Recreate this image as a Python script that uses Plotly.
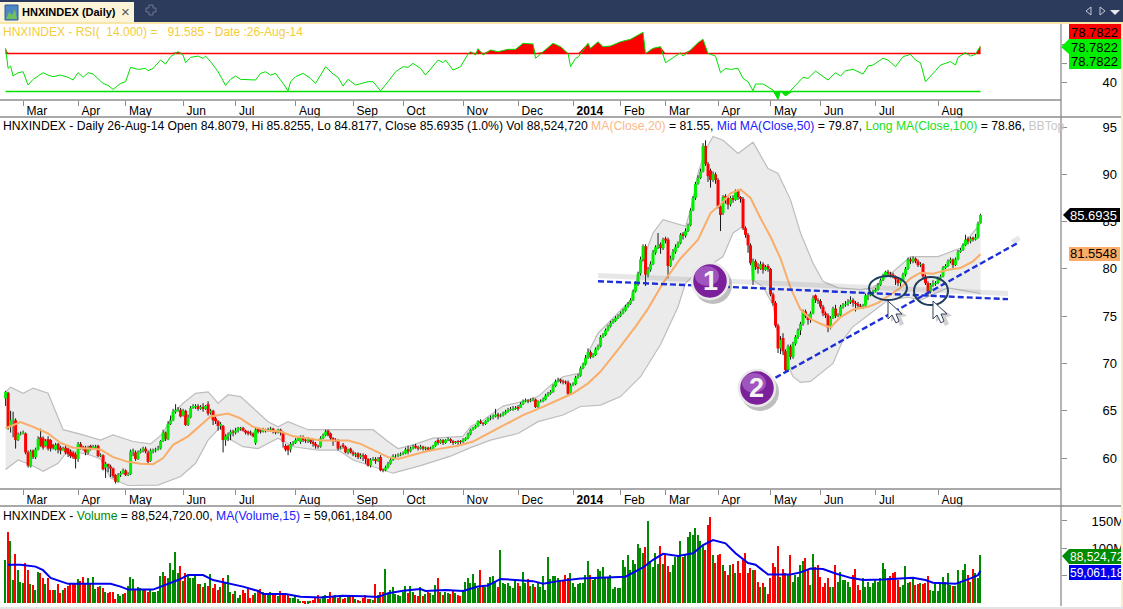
import plotly.graph_objects as go
import numpy as np

W, H = 1123, 609
FONT = "Liberation Sans"

# daily bars, one value per session
opens = [66.3,66.9,63.3,64.0,64.0,61.9,62.5,62.6,62.6,60.6,
59.1,60.8,60.1,60.9,62.2,62.1,61.3,62.0,61.9,61.4,
60.9,61.5,61.1,60.8,61.1,61.0,60.7,60.6,60.4,59.9,
61.5,61.2,61.1,60.6,61.3,61.0,61.1,61.3,60.2,60.3,
59.0,59.4,59.1,58.9,58.2,57.5,58.2,58.4,58.7,58.2,
58.3,60.7,60.6,59.9,60.6,60.8,61.0,60.6,59.7,60.7,
60.8,60.9,61.0,61.8,62.7,62.0,63.6,64.0,64.9,65.0,
65.1,64.5,65.0,63.5,64.3,65.3,65.4,65.5,65.2,65.4,
65.2,65.7,64.8,65.0,64.2,63.9,63.4,63.4,61.9,62.3,
62.5,62.8,62.7,62.9,63.1,63.2,62.9,62.8,62.7,62.6,
61.6,63.1,62.9,62.8,63.0,62.9,63.0,63.1,62.8,62.7,
63.0,62.7,61.3,61.3,60.9,61.5,61.6,61.9,61.7,62.2,
61.9,61.8,62.0,61.7,61.5,61.3,61.2,62.1,62.4,62.9,
62.6,62.1,61.8,61.9,61.0,61.4,61.2,60.6,61.0,60.6,
60.3,60.5,60.1,60.3,60.3,59.9,59.2,59.8,59.9,59.7,
60.1,58.8,58.7,59.0,59.4,59.8,60.2,60.2,60.3,60.4,
60.5,60.9,60.7,61.0,61.3,61.1,61.0,61.2,61.0,61.1,
60.9,61.0,61.3,61.9,61.6,61.9,61.6,61.9,62.0,61.8,
61.6,61.8,61.8,61.7,61.9,62.1,62.5,63.0,63.2,63.4,
63.9,63.7,63.6,63.9,64.2,64.3,64.4,64.6,64.4,64.5,
64.7,64.9,65.1,65.1,65.2,65.4,65.3,65.7,66.0,66.1,
66.0,66.1,66.2,65.4,65.9,66.0,66.2,66.6,66.8,67.0,
67.6,68.1,68.3,68.1,68.1,68.0,66.9,67.7,67.8,68.5,
68.7,69.5,69.9,70.6,71.2,70.7,70.9,71.5,71.8,72.8,
73.0,73.5,73.9,74.3,74.5,74.8,75.0,75.3,75.6,76.0,
76.3,76.7,77.6,78.4,79.5,81.0,82.4,79.4,79.9,80.5,
81.7,82.3,82.6,82.2,83.2,83.1,80.3,81.1,81.8,82.3,
82.7,83.7,83.5,84.0,84.6,86.2,87.5,89.0,89.6,90.3,
93.0,91.1,90.4,89.4,90.0,89.4,86.6,85.9,87.7,87.5,
86.8,87.5,87.3,88.3,87.6,87.4,84.3,83.6,82.5,78.8,
80.8,80.2,80.0,80.5,79.9,80.3,80.0,77.3,76.4,74.0,
71.6,72.7,71.3,69.3,71.8,70.7,72.1,72.8,73.5,74.2,
75.5,75.0,74.6,75.3,77.2,76.7,76.6,76.0,75.3,75.1,
73.8,74.8,75.8,75.0,75.1,76.0,76.2,76.3,76.5,76.7,
76.4,76.3,76.1,76.0,76.1,77.1,77.2,77.4,77.6,77.8,
78.3,78.8,79.3,79.7,79.5,79.4,79.2,78.9,78.5,78.8,
79.4,80.0,81.0,80.8,81.1,80.8,80.4,80.5,79.2,78.5,
77.6,78.3,78.4,78.5,79.0,79.2,80.1,80.3,80.8,81.0,
80.4,81.0,81.8,82.0,82.5,83.2,82.9,83.3,83.1,83.3,84.81]
closes = [67.0,63.3,64.0,64.1,61.9,62.5,62.6,62.7,60.6,59.2,
60.7,60.1,60.9,62.0,61.3,61.1,61.8,61.0,61.0,61.1,
61.4,60.9,60.8,61.0,60.6,60.4,60.2,60.1,59.9,61.5,
61.1,61.0,60.6,61.1,61.0,61.2,61.2,60.2,60.3,58.8,
59.4,59.1,58.9,58.1,57.5,58.2,58.4,58.7,58.2,58.3,
60.7,60.8,59.9,60.6,60.8,61.0,60.7,59.6,60.8,60.8,
60.9,61.0,61.8,62.7,62.0,63.6,64.0,64.9,65.1,65.1,
64.4,65.0,63.5,64.3,65.3,65.5,65.5,65.2,65.4,65.2,
65.5,64.7,65.0,64.0,63.9,63.4,63.6,61.9,62.3,62.5,
62.8,62.7,62.9,63.2,63.2,62.9,62.7,62.6,62.6,62.3,
63.0,62.8,62.8,63.0,62.9,63.0,63.1,62.8,62.7,63.0,
62.7,61.7,60.9,60.8,61.5,61.6,61.9,62.1,62.2,61.9,
61.8,62.0,61.7,61.5,61.3,61.2,62.1,62.4,62.8,62.4,
62.1,61.8,61.9,61.0,61.1,61.2,60.6,60.9,60.6,60.4,
60.4,60.1,60.3,60.2,59.9,59.2,59.8,59.9,59.7,59.9,
58.7,58.7,59.0,59.4,59.8,60.2,60.2,60.3,60.4,60.5,
60.9,60.7,61.0,61.2,61.1,61.0,61.2,61.0,61.1,60.9,
61.0,61.3,61.7,61.6,61.9,61.6,61.9,62.0,61.8,61.6,
61.7,61.7,61.7,61.9,62.1,62.5,63.0,63.2,63.4,63.9,
63.7,63.6,63.9,64.2,64.3,64.4,64.6,64.4,64.5,64.7,
64.9,65.1,65.2,65.2,65.3,65.2,65.7,66.0,66.1,66.0,
66.1,66.2,65.4,66.0,66.0,66.2,66.6,66.8,67.0,67.6,
68.1,68.2,68.1,68.0,68.0,66.8,67.7,67.8,68.5,68.7,
69.5,69.9,70.6,71.2,70.7,70.9,71.5,71.8,72.8,73.0,
73.5,73.9,74.3,74.5,74.8,75.0,75.3,75.6,76.0,76.3,
76.7,77.6,78.4,79.5,81.0,82.4,79.4,79.9,80.5,81.7,
82.3,82.5,82.2,83.1,83.0,80.3,81.1,81.8,82.3,82.7,
83.6,83.5,84.0,84.6,86.2,87.5,89.0,89.6,90.3,93.0,
91.1,89.8,89.4,90.0,89.4,86.6,85.7,87.6,87.5,86.8,
87.5,87.3,88.3,87.6,87.4,84.3,83.6,82.5,80.6,80.8,
80.2,80.0,80.5,79.9,80.2,80.0,77.3,76.4,74.0,71.6,
72.5,71.3,69.3,71.8,70.7,72.1,72.8,73.5,74.2,75.5,
75.0,74.6,75.3,76.9,76.7,76.6,76.0,75.3,75.1,73.8,
74.8,75.8,75.0,75.1,76.0,76.2,76.3,76.5,76.7,76.4,
76.3,76.1,76.0,76.1,77.2,77.2,77.4,77.6,77.8,78.3,
78.8,79.3,79.7,79.5,79.4,79.2,78.9,78.5,78.8,79.4,
80.0,81.0,80.8,81.1,80.8,80.4,80.5,79.2,78.5,77.6,
78.3,78.5,78.5,79.0,79.2,80.1,80.3,80.8,81.0,80.4,
81.0,81.8,82.0,82.5,83.1,82.9,83.2,83.1,83.3,84.8,85.69]
highs = [67.1,67.0,65.0,64.9,64.2,62.7,62.8,62.9,62.7,60.8,
60.9,60.9,61.1,62.3,63.1,62.3,62.0,62.3,62.0,61.5,
61.6,61.6,61.3,61.2,61.3,61.1,60.9,60.7,60.6,61.7,
61.7,61.3,61.3,61.3,61.4,61.4,61.4,61.4,60.5,60.4,
59.6,59.3,59.3,59.0,58.3,58.4,58.6,58.9,58.8,58.5,
60.9,61.0,60.8,60.8,61.0,61.2,61.2,60.8,61.0,61.0,
61.1,61.3,61.9,63.0,62.8,63.9,64.5,65.2,65.7,65.4,
65.3,65.2,65.1,64.6,65.5,65.7,65.7,65.7,65.6,65.8,
65.6,66.0,65.2,65.1,64.4,64.0,63.8,63.5,62.5,62.7,
63.0,63.0,63.2,63.3,63.3,63.3,63.0,62.9,62.9,62.7,
63.2,63.2,63.0,63.2,63.1,63.2,63.3,63.2,62.9,63.1,
63.1,62.8,61.5,61.4,61.7,61.8,62.1,62.3,62.4,62.4,
62.0,62.2,62.1,61.9,61.7,61.4,62.3,62.6,63.0,63.0,
62.7,62.2,62.1,62.0,61.3,61.6,61.3,61.0,61.1,60.8,
60.6,60.6,60.5,60.5,60.4,60.0,60.0,60.1,60.1,60.1,
60.3,58.9,59.2,59.6,60.0,60.4,60.4,60.5,60.6,60.7,
61.1,61.3,61.2,61.4,61.5,61.3,61.4,61.3,61.2,61.2,
61.2,61.4,61.8,62.1,62.0,62.0,62.0,62.2,62.1,61.9,
61.8,61.9,61.9,62.1,62.2,62.7,63.1,63.3,63.5,64.0,
64.1,63.8,64.0,64.3,64.5,64.6,65.2,64.8,64.7,64.9,
65.1,65.3,65.4,65.5,65.5,65.6,65.9,66.2,66.3,66.2,
66.3,66.4,66.3,66.1,66.2,66.4,66.8,67.0,67.2,67.8,
68.3,68.5,68.4,68.3,68.2,68.2,67.9,68.0,68.7,68.9,
69.7,70.1,70.9,71.6,71.4,71.1,71.7,72.0,73.0,73.2,
73.7,74.1,74.5,74.7,75.0,75.2,75.5,75.8,76.2,76.5,
76.9,77.8,78.7,79.7,81.3,82.6,82.6,80.2,80.8,82.0,
82.5,83.8,82.8,83.3,83.4,83.3,81.4,82.1,82.6,82.9,
83.8,83.9,84.3,84.8,86.4,87.7,89.2,89.9,90.6,93.3,
93.6,91.3,90.6,90.3,90.2,89.6,86.8,87.8,87.9,87.7,
87.7,87.8,88.4,88.4,87.7,87.6,84.5,83.8,82.7,81.1,
81.0,80.6,80.8,80.7,80.4,80.5,80.1,77.5,76.6,74.2,
72.9,73.2,71.5,72.0,72.0,72.3,73.0,73.7,74.4,75.7,
75.7,75.2,75.5,77.2,77.3,76.9,76.8,76.2,75.5,75.3,
75.0,76.0,76.2,75.3,76.2,76.4,76.6,76.8,77.1,76.9,
76.6,76.5,76.3,76.3,77.4,77.5,77.6,77.8,78.0,78.5,
79.0,79.5,79.8,79.9,79.7,79.6,79.3,79.1,79.0,79.6,
80.2,81.2,81.2,81.3,81.2,81.0,80.7,80.6,79.4,78.7,
78.5,78.8,78.7,79.2,79.4,80.3,80.5,81.0,81.2,81.1,
81.2,82.0,82.2,82.7,83.6,83.4,83.4,83.4,83.7,85.0,85.83]
lows = [65.5,63.0,62.7,62.2,61.0,61.8,62.4,62.5,60.4,59.0,
59.0,59.9,59.9,60.8,61.2,60.9,61.2,60.8,60.7,60.9,
60.8,60.5,60.4,60.8,60.4,60.1,60.0,59.9,58.9,59.6,
60.9,60.8,60.3,60.4,60.8,60.9,61.0,60.1,60.1,58.7,
57.9,58.5,58.0,57.9,57.3,57.4,58.0,58.3,58.1,58.1,
58.2,60.2,59.7,59.8,60.5,60.6,60.5,59.4,59.6,60.5,
60.6,60.8,60.9,61.7,61.8,61.9,63.5,63.9,64.7,64.9,
64.3,64.4,63.4,63.4,64.2,65.2,65.2,65.0,65.1,64.9,
65.1,64.5,64.6,63.5,63.6,62.9,63.0,60.6,61.3,61.8,
61.9,62.3,62.5,62.7,62.9,62.8,62.5,62.4,62.4,62.2,
61.4,62.6,62.6,62.7,62.7,62.8,62.8,62.6,62.5,62.6,
62.4,61.1,60.7,60.3,60.6,61.3,61.5,61.8,61.5,61.7,
61.6,61.6,61.5,61.2,61.0,61.0,61.1,62.0,62.3,62.3,
61.9,61.3,61.7,60.8,60.9,61.0,60.5,60.4,60.5,60.2,
60.1,59.9,59.9,59.7,59.4,59.1,59.0,59.7,59.4,59.6,
58.6,58.5,58.6,58.9,59.3,59.7,60.0,60.1,60.2,60.3,
60.4,60.4,60.6,60.9,61.0,60.8,60.9,60.8,60.8,60.7,
60.8,60.9,61.2,61.4,61.5,61.4,61.5,61.8,61.6,61.4,
61.5,61.4,61.5,61.6,61.8,62.0,62.4,62.9,63.1,63.3,
63.6,63.4,63.5,63.8,64.0,64.1,64.3,64.1,64.3,64.4,
64.6,64.8,65.0,65.0,65.1,65.0,65.3,65.6,65.9,65.8,
65.9,66.0,65.3,65.3,65.9,65.9,66.1,66.5,66.7,66.9,
67.5,68.0,67.9,67.8,67.8,66.6,66.7,67.6,67.7,68.4,
68.6,69.4,69.8,70.5,70.5,70.6,70.8,71.4,71.7,72.7,
72.9,73.4,73.8,74.2,74.4,74.7,74.9,75.2,75.5,75.9,
76.2,76.6,77.5,78.2,79.3,80.8,78.2,79.1,79.7,80.4,
81.5,82.1,81.6,82.0,82.7,79.0,80.2,80.9,81.6,82.2,
82.6,83.1,83.3,83.9,84.5,86.1,87.3,88.9,89.5,90.2,
90.9,89.2,88.6,89.2,89.0,86.4,84.0,85.7,86.9,86.3,
86.6,87.0,87.2,87.3,87.0,84.1,83.3,81.7,80.4,78.3,
79.9,79.5,79.9,79.5,79.8,79.7,77.1,76.1,73.8,71.1,
71.0,70.9,69.0,69.1,70.4,70.5,71.9,72.6,73.0,74.0,
74.8,74.1,74.3,75.2,76.4,76.3,75.8,75.0,74.8,73.3,
73.6,74.7,74.8,74.9,75.0,75.8,76.0,76.1,76.3,76.0,
75.5,75.9,75.8,75.8,76.0,76.7,77.1,77.3,77.5,77.7,
78.2,78.7,79.2,79.3,79.1,79.0,78.3,78.2,78.1,78.7,
79.2,79.9,80.5,80.6,80.6,80.2,80.2,79.0,78.3,77.1,
77.4,78.1,78.2,78.4,78.8,79.1,80.0,80.2,80.6,80.1,
80.3,80.9,81.7,81.9,82.4,82.6,82.7,82.9,83.0,83.2,84.8]
volumes = [79,130,113,42,89,60,38,36,74,60,
34,33,24,56,54,45,35,45,23,24,
24,35,18,23,28,32,36,37,35,44,
40,48,36,46,36,48,26,30,32,28,
20,18,21,20,8,17,13,17,18,32,
48,43,24,30,28,26,25,20,24,21,
20,22,50,56,50,45,74,60,93,54,
68,40,54,50,45,46,50,34,35,30,
36,32,53,27,35,24,30,46,38,52,
21,16,22,10,14,24,18,26,10,15,
19,24,26,20,14,14,20,14,16,12,
22,14,18,14,10,9,12,7,4,4,
3,3,4,6,10,14,8,12,14,8,
20,13,14,10,12,8,9,11,14,12,
8,6,4,10,14,8,8,5,34,14,
20,20,63,18,24,30,16,14,12,20,
32,18,32,20,14,12,30,12,16,20,
18,14,33,45,20,14,20,18,16,22,
18,14,12,22,39,45,36,53,36,28,
60,30,30,36,48,50,38,30,97,36,
35,36,32,28,44,36,31,56,36,44,
32,34,30,36,30,50,24,85,44,50,
50,45,42,40,51,46,54,36,30,35,
36,36,51,76,51,42,45,62,58,66,
45,46,51,26,30,28,27,79,66,88,
60,79,72,107,100,91,103,149,76,66,
91,72,104,71,88,68,57,70,85,88,
113,85,88,120,130,124,137,124,113,105,
97,143,157,88,74,87,90,70,58,51,
70,71,55,76,55,79,91,55,64,60,
60,39,30,36,30,17,45,74,66,104,
48,63,54,51,87,39,51,48,70,77,
82,63,33,90,66,70,48,30,36,45,
30,30,70,38,56,42,42,39,30,51,
62,33,24,45,30,38,30,36,42,38,
45,74,62,45,50,54,56,42,30,33,
68,36,39,47,33,34,36,34,36,50,
24,22,37,22,36,48,39,55,33,32,
31,60,38,60,71,52,39,62,54,45,88.5]

# indicator lines, sampled where they could be read: bar number, value
ma20_bar = [0,6,11,17,22,27,33,38,43,49,54,59,63,67,73,78,82,89,94,99,105,110,115,121,126,131,137,142,147,153,157,162,168,174,181,187,194,201,207,214,221,227,233,238,246,252,257,263,270,277,282,286,290,294,298,302,306,310,314,318,322,326,330,334,339,345,349,353,358,362,366,371,377,382,387,390]
ma20_val = [63.15,63.8,63.3,62.6,61.6,61.1,61.0,60.9,60.1,59.6,59.4,59.35,60.0,61.4,62.3,63.5,64.4,64.7,64.2,63.3,62.9,62.8,62.3,62.1,61.85,61.85,61.85,61.5,60.85,60.1,59.9,60.3,60.7,61.0,61.3,61.75,62.7,63.7,64.55,65.3,66.15,66.85,67.9,69.15,71.8,73.9,75.8,78.5,81.1,83.1,85.9,86.8,88.0,88.4,87.5,85.35,83.4,81.1,78.0,75.7,74.7,74.2,73.8,74.9,75.7,76.0,76.4,77.1,78.0,79.0,79.6,79.5,79.9,80.1,80.8,81.55]
bb_up_bar = [0,2,7,11,17,19,23,31,38,43,51,58,63,67,71,76,81,85,89,94,99,105,109,113,121,131,139,147,153,157,163,171,183,186,191,197,199,207,213,219,223,230,233,237,250,255,259,263,267,272,274,277,280,283,287,293,299,305,309,314,318,323,327,333,342,347,355,362,373,382,390]
bb_up_val = [67.0,67.5,66.85,67.4,66.85,65.6,63.0,62.45,61.9,62.45,61.75,61.5,62.6,64.7,65.8,66.85,67.0,65.8,66.7,66.5,65.3,63.85,63.3,63.85,63.0,63.0,63.0,63.0,61.75,61.0,61.4,62.1,62.3,63.35,64.0,65.1,65.5,66.0,66.5,67.9,68.6,69.0,71.1,73.2,76.7,81.0,83.8,85.2,84.9,84.5,86.2,90.1,92.6,94.0,93.6,92.2,93.4,90.6,90.1,87.3,83.8,80.6,78.7,78.0,77.8,78.0,79.7,81.3,81.3,82.2,84.8]
bb_lo_bar = [0,5,10,15,21,25,34,38,42,49,61,70,76,81,86,89,95,101,109,115,125,133,139,147,155,166,178,186,194,205,213,223,230,238,246,254,262,269,272,274,287,291,295,297,299,303,307,309,312,315,318,322,331,335,339,345,353,361,366,377,390]
bb_lo_val = [58.8,59.8,59.3,58.6,59.45,60.85,60.3,59.9,57.9,57.1,57.15,58.05,59.45,61.9,63.3,62.1,61.2,61.0,62.1,61.2,60.85,60.85,59.8,59.1,58.4,59.2,60.2,61.1,61.9,62.6,63.85,64.55,65.45,65.6,66.5,68.6,72.0,76.0,78.5,79.0,81.3,83.8,84.5,83.0,78.8,78.1,76.2,73.0,70.4,68.6,68.0,68.1,70.0,72.5,73.9,75.1,76.7,77.0,76.7,78.0,77.4]
vol_ma_bar = [1,6,12,15,18,22,25,33,42,46,49,59,62,66,69,73,79,83,89,95,101,103,112,118,126,135,143,149,153,159,166,168,176,183,189,193,198,204,211,215,221,230,248,255,259,263,269,275,279,283,288,292,297,300,305,314,318,322,327,332,338,343,351,363,368,371,380,386,389,390]
vol_ma_val = [70,70,66.5,60,46,40,35,35,35,30,24.5,24.5,30,36,42,51,51,42,36,30,22,16.5,16.5,11.6,10,13.5,12.3,11,17.7,22.6,25.7,22,24,22,30,32,44,42,40,35.4,40,45,48,65,79,90,86,91,106,115,109,91,73,70,52,52,56,63,62,54,46,42,43,46,42,37,35,45,51,59]
rsi_bar = [0,1,2,3,5,7,9,11,13,15,17,19,22,25,27,29,31,33,35,37,39,41,43,46,48,50,53,56,57,59,62,64,66,69,71,72,74,77,79,80,82,85,88,90,92,94,97,100,102,104,106,108,111,113,114,116,119,122,124,128,131,133,135,137,140,143,145,147,150,153,156,159,161,163,166,168,171,173,175,176,179,182,185,186,188,189,191,194,197,201,204,207,211,212,215,219,222,225,226,228,229,233,234,237,239,242,246,250,255,256,259,262,264,268,270,271,274,277,279,281,284,286,288,290,293,295,297,299,300,303,307,309,310,312,315,319,321,324,329,332,334,336,339,343,345,347,351,353,356,359,362,364,366,368,372,374,378,380,381,384,386,388,390]
rsi_val = [75.4,54.3,56.8,46.3,49.8,50.8,36.8,42.8,46.3,49.8,47.3,45.6,47.3,44.9,42.1,49.8,44.9,49.8,48.4,43.8,38.5,36.4,32.2,38.5,40.3,55.4,53.3,54.3,51.9,54.3,63.1,58.9,66.6,71.9,68.4,60.3,65.9,67.3,64.9,67.3,61.4,50.8,36.4,42.8,46.3,42.8,42.1,42.1,49.1,50.8,47.3,49.1,38.5,30.8,40.3,45.6,49.1,43.8,38.5,56.1,48.4,44.9,35.7,42.8,36.8,38.5,40.3,40.3,30.8,40.3,50.8,56.1,55.4,59.6,54.3,47.3,56.1,63.1,60.3,63.1,52.6,56.1,69.4,71.9,68.4,75.1,68.4,73.7,71.9,74.4,74.4,80.7,80.0,64.9,71.9,80.7,77.2,70.1,56.1,64.9,66.0,80.7,75.4,82.4,77.2,77.9,82.4,84.9,92.3,70.1,75.4,77.2,60.3,67.3,70.8,67.3,73.7,81.4,84.9,70.1,67.3,49.8,54.3,53.3,54.3,43.8,40.3,30.8,37.9,37.9,31.5,21.7,30.8,25.2,33.3,44.9,43.8,51.5,42.1,49.8,46.3,51.9,53.3,48.4,56.8,57.9,64.9,63.1,56.1,66.6,69.1,63.1,60.3,40.3,51.9,57.9,61.4,57.9,65.9,70.8,67.3,69.1,77.9]

month_bars = [7,29,48,71,92,116,139,159,183,205,227,246,264,285,306,326,348,373]
month_labels = ["Mar","Apr","May","Jun","Jul","Aug","Sep","Oct","Nov","Dec","<b>2014</b>","Feb","Mar","Apr","May","Jun","Jul","Aug"]

# hand drawn trend lines: bar number, price
trend1_bar, trend1_val = [237, 401], [78.7, 76.8]
trend2_bar, trend2_val = [308, 404.6], [68.5, 82.7]


def px(x):
    return x / W


def py(y):
    return 1 - y / H


bars = list(range(len(closes)))
XR = [-2.24, 422.2]
XDOM = [0, px(1061)]

fig = go.Figure()

# RSI panel
fig.add_trace(go.Scatter(x=[0, 390], y=[70, 70], mode="lines", line=dict(color="#ff0000", width=1.5), xaxis="x", yaxis="y"))
fig.add_trace(go.Scatter(x=[0, 390], y=[30, 30], mode="lines", line=dict(color="#00e000", width=1.5), xaxis="x", yaxis="y"))
rsi = np.array(rsi_val)
fig.add_trace(go.Scatter(x=rsi_bar, y=[70] * len(rsi), mode="lines", line=dict(width=0), xaxis="x", yaxis="y"))
fig.add_trace(go.Scatter(x=rsi_bar, y=np.maximum(rsi, 70).tolist(), mode="lines", line=dict(width=0), fill="tonexty", fillcolor="#ff0000", xaxis="x", yaxis="y"))
fig.add_trace(go.Scatter(x=rsi_bar, y=[30] * len(rsi), mode="lines", line=dict(width=0), xaxis="x", yaxis="y"))
fig.add_trace(go.Scatter(x=rsi_bar, y=np.minimum(rsi, 30).tolist(), mode="lines", line=dict(width=0), fill="tonexty", fillcolor="#00e000", xaxis="x", yaxis="y"))
fig.add_trace(go.Scatter(x=rsi_bar, y=rsi_val, mode="lines", line=dict(color="#00e000", width=1), xaxis="x", yaxis="y"))

# price panel: bollinger band, then candles, then the moving average
fig.add_trace(go.Scatter(x=bb_up_bar, y=bb_up_val, mode="lines", line=dict(color="#bdbdbd", width=1.2), xaxis="x2", yaxis="y2"))
fig.add_trace(go.Scatter(x=bb_lo_bar, y=bb_lo_val, mode="lines", line=dict(color="#bdbdbd", width=1.2), fill="tonexty", fillcolor="#ebebeb", xaxis="x2", yaxis="y2"))

wick_x, wick_y, up_x, up_y, dn_x, dn_y = [], [], [], [], [], []
for i in bars:
    wick_x += [i, i, None]
    wick_y += [lows[i], highs[i], None]
    if closes[i] >= opens[i]:
        up_x += [i, i, None]
        up_y += [opens[i], closes[i], None]
    else:
        dn_x += [i, i, None]
        dn_y += [opens[i], closes[i], None]
fig.add_trace(go.Scatter(x=wick_x, y=wick_y, mode="lines", line=dict(color="#000000", width=0.9), xaxis="x2", yaxis="y2"))
fig.add_trace(go.Scatter(x=dn_x, y=dn_y, mode="lines", line=dict(color="#ff0000", width=3), xaxis="x2", yaxis="y2"))
fig.add_trace(go.Scatter(x=up_x, y=up_y, mode="lines", line=dict(color="#00f000", width=3), xaxis="x2", yaxis="y2"))
fig.add_trace(go.Scatter(x=ma20_bar, y=ma20_val, mode="lines", line=dict(color="#f9ad68", width=2), xaxis="x2", yaxis="y2"))

# volume panel
vol_colors = ["#008a00" if closes[i] >= opens[i] else "#ff0000" for i in bars]
fig.add_trace(go.Bar(x=bars, y=volumes, width=0.66, marker=dict(color=vol_colors, line=dict(width=0)), xaxis="x3", yaxis="y3"))
fig.add_trace(go.Scatter(x=vol_ma_bar, y=vol_ma_val, mode="lines", line=dict(color="#0000ee", width=2), xaxis="x3", yaxis="y3"))

shapes = []


def rect(x0, y0, x1, y1, fill, layer="above", line=None):
    shapes.append(dict(type="rect", xref="paper", yref="paper", x0=px(x0), x1=px(x1), y0=py(y0), y1=py(y1), fillcolor=fill, line=dict(width=0) if line is None else line, layer=layer))


def hline(y, x0, x1, color="#8c8c8c"):
    shapes.append(dict(type="line", xref="paper", yref="paper", x0=px(x0), x1=px(x1), y0=py(y), y1=py(y), line=dict(color=color, width=1.3), layer="above"))


def circle(cx, cy, rx, ry, fill, line):
    shapes.append(dict(type="circle", xref="paper", yref="paper", x0=px(cx - rx), x1=px(cx + rx), y0=py(cy + ry), y1=py(cy - ry), fillcolor=fill, line=line, layer="above"))


def poly(points, fill, line=None):
    d = "M " + " L ".join(f"{px(x):.5f} {py(y):.5f}" for x, y in points) + " Z"
    shapes.append(dict(type="path", xref="paper", yref="paper", path=d, fillcolor=fill, line=dict(width=0) if line is None else line, layer="above"))


# window chrome
rect(0, 0, W, 22, "#2c3b5b")
rect(0, 22, W, 24, "#f7e8a9")
rect(0, 2, 134, 22, "#fbf4d8")
rect(5, 5, 18, 20, "#4f86c6", line=dict(color="#2c5f9e", width=1))
poly([(6, 19), (9, 12), (12, 15), (15, 9), (17, 19)], "#6fc05a")
poly([(1086, 11), (1091, 7), (1091, 15)], "rgba(0,0,0,0)", dict(color="#c6cbd6", width=1))
poly([(1105, 11), (1100, 7), (1100, 15)], "rgba(0,0,0,0)", dict(color="#c6cbd6", width=1))
poly([(1110, 10), (1120, 10), (1115, 15)], "#e6e9ef")
poly([(146, 8), (149, 8), (149, 5), (153, 5), (153, 8), (156, 8), (156, 12), (153, 12), (153, 15), (149, 15), (149, 12), (146, 12)], "rgba(0,0,0,0)", dict(color="#6f7890", width=1))
rect(1121, 24, W, H, "#f7efc9")
rect(0, 607, W, H, "#e4e4e4")
hline(100, 0, 1061)
hline(117, 0, 1121)
hline(489, 0, 1061)
hline(506, 0, 1121)
shapes.append(dict(type="line", xref="paper", yref="paper", x0=px(1061), x1=px(1061), y0=py(24), y1=py(606), line=dict(color="#8c8c8c", width=1.3), layer="above"))

# trend lines with their soft shadows
shapes.append(dict(type="line", xref="x2", yref="y2", x0=trend1_bar[0], x1=trend1_bar[1], y0=trend1_val[0] + 0.6, y1=trend1_val[1] + 0.6, line=dict(color="rgba(120,120,120,0.18)", width=5), layer="above"))
shapes.append(dict(type="line", xref="x2", yref="y2", x0=trend2_bar[1] - 2, x1=trend2_bar[1] + 1, y0=trend2_val[1] + 0.1, y1=trend2_val[1] + 0.6, line=dict(color="rgba(120,120,120,0.18)", width=5), layer="above"))
shapes.append(dict(type="line", xref="x2", yref="y2", x0=trend1_bar[0], x1=trend1_bar[1], y0=trend1_val[0], y1=trend1_val[1], line=dict(color="#1c2fd8", width=2.4, dash="6px,3px"), layer="above"))
shapes.append(dict(type="line", xref="x2", yref="y2", x0=trend2_bar[0], x1=trend2_bar[1], y0=trend2_val[0], y1=trend2_val[1], line=dict(color="#1c2fd8", width=2.4, dash="6px,3px"), layer="above"))

# ellipses and pointers
circle(888, 288, 19, 12, "rgba(0,0,0,0)", dict(color="#1d3d5c", width=2))
circle(931, 291, 17, 14, "rgba(0,0,0,0)", dict(color="#1d3d5c", width=2))
for cx, cy in [(888, 301), (933, 301)]:
    poly([(cx + 3, cy + 3), (cx + 3, cy + 21), (cx + 8, cy + 17), (cx + 12, cy + 25), (cx + 16, cy + 23), (cx + 13, cy + 16), (cx + 19, cy + 15)], "rgba(90,90,90,0.28)")
    poly([(cx, cy), (cx, cy + 18), (cx + 4, cy + 14), (cx + 8, cy + 22), (cx + 11, cy + 20), (cx + 8, cy + 13), (cx + 14, cy + 13)], "#ffffff", dict(color="#33445a", width=1))

# numbered badges
for cx, cy in [(710, 281), (757, 388)]:
    circle(cx + 3, cy + 4, 19, 19, "rgba(70,70,70,0.35)", dict(width=0))
    circle(cx, cy, 18, 18, "#7b1f9b", dict(color="#e8e8e8", width=2.5))
    circle(cx - 3, cy - 5, 12, 10, "#a054bd", dict(width=0))

# value flags on the right axis
rect(1069, 24, 1121, 39, "#ff0000")
poly([(1061, 47), (1069, 39), (1121, 39), (1121, 54), (1069, 54)], "#00ee00")
rect(1069, 54, 1121, 69, "#00ee00")
poly([(1063, 215), (1070, 208), (1120, 208), (1120, 222), (1070, 222)], "#000000")
rect(1069, 247, 1120, 261, "#f9ad68")
poly([(1062, 556), (1069, 549), (1121, 549), (1121, 564), (1069, 564)], "#008a00")
rect(1069, 565, 1121, 580, "#0000ee")

annotations = []


def label(x, y, text, color="#000000", size=12, anchor="left", bold=False):
    annotations.append(dict(xref="paper", yref="paper", x=px(x), y=py(y), text=f"<b>{text}</b>" if bold else text, showarrow=False, xanchor=anchor, yanchor="middle", font=dict(family=FONT, size=size, color=color), align=anchor, borderpad=0, borderwidth=0))


label(22, 12, "HNXINDEX (Daily)", "#000000", 11, bold=True)
label(121, 12, "×", "#555555", 15)
label(3, 32, "HNXINDEX - RSI(&nbsp;&nbsp;14.000) =&nbsp;&nbsp;&nbsp;91.585 - Date :26-Aug-14", "#f5cc3a", 12)
label(3, 126, "HNXINDEX - Daily 26-Aug-14 Open 84.8079, Hi 85.8255, Lo 84.8177, Close 85.6935 (1.0%) Vol 88,524,720 "
      "<span style='color:#f9b98a'>MA(Close,20)</span> = 81.55, <span style='color:#2020ff'>Mid MA(Close,50)</span> = 79.87, "
      "<span style='color:#20e020'>Long MA(Close,100)</span> = 78.86, <span style='color:#c8c8c8'>BBTop</span>", "#000000", 12.2)
label(3, 516, "HNXINDEX - <span style='color:#008a00'>Volume</span> = 88,524,720.00, <span style='color:#2020ff'>MA(Volume,15)</span> = 59,061,184.00", "#000000", 12.2)

label(1118, 32, "78.7822", "#000000", 13, "right")
label(1118, 47, "78.7822", "#000000", 13, "right")
label(1118, 62, "78.7822", "#000000", 13, "right")
label(1117, 215, "85.6935", "#ffffff", 13, "right")
label(1117, 254, "81.5548", "#000000", 13, "right")
label(1070, 557, "88,524,72", "#ffffff", 12)
label(1070, 573, "59,061,18", "#ffffff", 12)
label(710, 281, "1", "#f4f4f4", 27, "center", bold=True)
label(757, 388, "2", "#f4f4f4", 27, "center", bold=True)

axis_font = dict(family=FONT, size=13, color="#000000")
month_axis = dict(domain=XDOM, range=XR, tickmode="array", tickvals=month_bars, ticktext=month_labels,
                  ticks="outside", ticklen=5, tickcolor="#8c8c8c", ticklabelposition="outside right", ticklabelshift=3,
                  tickfont=dict(family=FONT, size=12, color="#000000"), showgrid=False, zeroline=False, fixedrange=True,
                  automargin=False)


def side_axis(top, bottom, rng, vals, texts, anchor, standoff):
    return dict(domain=[py(bottom), py(top)], range=rng, side="right", anchor=anchor, tickmode="array", tickvals=vals,
                ticktext=texts, ticks="outside", ticklen=5, tickcolor="#8c8c8c", tickfont=axis_font, showgrid=False,
                zeroline=False, fixedrange=True, ticklabelstandoff=standoff, automargin=False)


fig.update_layout(
    width=W, height=H, margin=dict(l=0, r=0, t=0, b=0, pad=0, autoexpand=False), paper_bgcolor="#ffffff", plot_bgcolor="#ffffff",
    showlegend=False, barmode="overlay", bargap=0,
    xaxis=dict(month_axis, anchor="y"),
    xaxis2=dict(month_axis, anchor="y2"),
    xaxis3=dict(domain=XDOM, range=XR, anchor="y3", showticklabels=False, ticks="", showgrid=False, zeroline=False, fixedrange=True, automargin=False),
    yaxis=side_axis(24, 100, [21.05, 101.05], [80, 60, 40], ["", "", "40"], "x", 33),
    yaxis2=side_axis(117, 489, [56.73, 96.06], [95, 90, 85, 80, 75, 70, 65, 60], ["95", "90", "85", "80", "75", "70", "65", "60"], "x2", 33),
    yaxis3=side_axis(506, 604, [-1.8, 177.3], [150, 100, 50], ["150M", "100M", "50M"], "x3", 22),
    shapes=shapes, annotations=annotations,
)

fig.write_html("out.html", config=dict(displayModeBar=False), post_script="document.body.style.margin='0';document.body.style.overflow='hidden';")
